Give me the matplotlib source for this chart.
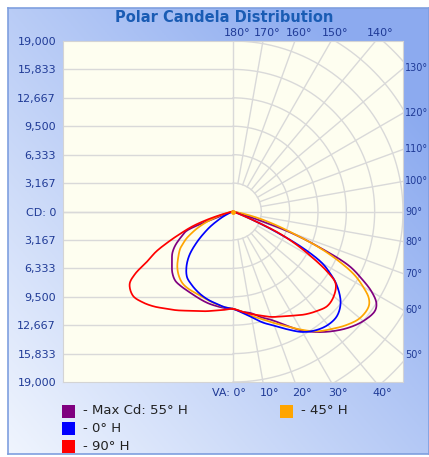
import numpy as np
import matplotlib
matplotlib.use('Agg')
import matplotlib.pyplot as plt
from matplotlib.transforms import offset_copy
from matplotlib.patches import Rectangle

# vertical angles (deg from nadir) and candela values per plane
angles = [0, 5, 10, 15, 20, 25, 30, 35, 40, 45, 50, 55, 57.5, 60, 62.5, 65,
          67.5, 70, 72.5, 75, 77.5, 80, 85, 90, 180]

# right half of plot = plane itself, left half = opposite plane
maxcd_right = [10850, 11200, 11500, 12200, 12900, 14000, 15300, 16400, 17400, 18300,
               19000, 19350, 19000, 17900, 16200, 14300, 10500, 6800, 2000, 700, 100, 0, 0, 0, 0]
maxcd_left = [10850, 10800, 10700, 10600, 10450, 10300, 10200, 10150, 10050, 9600,
              8900, 8300, 7900, 7400, 6800, 6200, 5600, 1000, 0, 0, 0, 0, 0, 0, 0]
h45_right = [10850, 11200, 11800, 12400, 13200, 14100, 15200, 16300, 17100, 17900,
             18500, 18500, 18000, 16800, 15300, 13000, 10300, 7200, 5000, 3200, 1500, 300, 0, 0, 0]
h45_left = [10850, 10700, 10500, 10300, 10100, 10000, 9950, 9800, 9400, 8800,
            8000, 7200, 6600, 6000, 5200, 4400, 3500, 2600, 1700, 900, 400, 100, 0, 0, 0]
h0_right = [10850, 11300, 11950, 12800, 13550, 14500, 15500, 16150, 16500, 16450,
            15700, 14100, 12900, 11500, 8800, 5000, 1800, 300, 0, 0, 0, 0, 0, 0, 0]
h0_left = [10850, 10700, 10450, 10250, 10000, 9700, 9350, 8950, 8100, 6900,
           5200, 3500, 2700, 1900, 1300, 700, 350, 100, 0, 0, 0, 0, 0, 0, 0]
h90_right = [10850, 11200, 11600, 12000, 12500, 12900, 13400, 14000, 14500, 14900,
             14700, 14000, 12500, 10200, 8000, 5500, 1800, 300, 0, 0, 0, 0, 0, 0, 0]
h90_left = [10850, 11000, 11200, 11500, 11800, 12200, 12700, 13200, 13800, 14300,
            14600, 14100, 13000, 11000, 9700, 7900, 6200, 4800, 3000, 1300, 300, 0, 0, 0, 0]

series = [
    ('- Max Cd: 55° H', '#800080', maxcd_right, maxcd_left),
    ('- 45° H', '#ffa500', h45_right, h45_left),
    ('- 0° H', '#0000ff', h0_right, h0_left),
    ('- 90° H', '#ff0000', h90_right, h90_left),
]

rmax = 19000
ytick_labels = ['19,000', '15,833', '12,667', '9,500', '6,333', '3,167', 'CD: 0',
                '3,167', '6,333', '9,500', '12,667', '15,833', '19,000']
label_blue = '#1f3a96'


def closed_spline(pts, n=16):
    # centripetal catmull-rom through the points of a closed loop
    P = np.asarray(pts, float)
    N = len(P)
    out = []
    for i in range(N):
        p0, p1, p2, p3 = P[i - 1], P[i], P[(i + 1) % N], P[(i + 2) % N]
        t0 = 0.0
        t1 = t0 + np.linalg.norm(p1 - p0) ** 0.5 + 1e-9
        t2 = t1 + np.linalg.norm(p2 - p1) ** 0.5 + 1e-9
        t3 = t2 + np.linalg.norm(p3 - p2) ** 0.5 + 1e-9
        t = np.linspace(t1, t2, n, endpoint=False)[:, None]
        a1 = (t1 - t) / (t1 - t0) * p0 + (t - t0) / (t1 - t0) * p1
        a2 = (t2 - t) / (t2 - t1) * p1 + (t - t1) / (t2 - t1) * p2
        a3 = (t3 - t) / (t3 - t2) * p2 + (t - t2) / (t3 - t2) * p3
        b1 = (t2 - t) / (t2 - t0) * a1 + (t - t0) / (t2 - t0) * a2
        b2 = (t3 - t) / (t3 - t1) * a2 + (t - t1) / (t3 - t1) * a3
        out.append((t2 - t) / (t2 - t1) * b1 + (t - t1) / (t2 - t1) * b2)
    out = np.vstack(out + [out[0][:1]])
    return out[:, 0], out[:, 1]


def loop_points(right, left):
    a = np.radians(angles)
    r = np.asarray(right, float)
    l = np.asarray(left, float)
    pts = [(ri * np.sin(ai), -ri * np.cos(ai)) for ai, ri in zip(a, r)]
    pts += [(-li * np.sin(ai), -li * np.cos(ai)) for ai, li in zip(a[::-1], l[::-1])]
    clean = []
    for p in pts:
        if not clean or np.hypot(p[0] - clean[-1][0], p[1] - clean[-1][1]) > 1:
            clean.append(p)
    if np.hypot(clean[0][0] - clean[-1][0], clean[0][1] - clean[-1][1]) <= 1:
        clean.pop()
    return clean


fig = plt.figure(figsize=(4.29, 4.57), dpi=100)
W, H = 429, 457

# gradient background panel
bg = fig.add_axes([8 / W, 3 / H, (W - 8) / W, (H - 11) / H])
gx, gy = np.meshgrid(np.linspace(0, 1, 200), np.linspace(0, 1, 200))
g = np.clip(gx * 0.6 + gy * 0.55, 0, 1)
c0 = np.array([0.94, 0.96, 0.995])
c1 = np.array([0.55, 0.67, 0.94])
img = c0 + (c1 - c0) * g[..., None]
bg.imshow(img, origin='lower', aspect='auto', extent=[0, 1, 0, 1])
bg.set_xticks([])
bg.set_yticks([])
for sp in bg.spines.values():
    sp.set_color('#7f9fdf')
    sp.set_linewidth(1.2)

ax = fig.add_axes([63 / W, (H - 382) / H, 340 / W, 341 / H])
ax.set_facecolor('#fefef0')
ax.set_xlim(-rmax, rmax)
ax.set_ylim(-rmax, rmax)
for sp in ax.spines.values():
    sp.set_color('#d4d4d4')

grid_kw = dict(color='#d9d9d9', lw=1.0, zorder=1)
step = rmax / 6
for k in range(-5, 6):
    ax.plot([-rmax, 0], [k * step, k * step], **grid_kw)
ax.plot([-rmax, rmax], [0, 0], **grid_kw)
ax.plot([0, 0], [-rmax, rmax], **grid_kw)
t = np.radians(np.linspace(0, 180, 400))
for k in range(1, 9):
    ax.plot(k * step * np.sin(t), -k * step * np.cos(t), **grid_kw)
for va in range(10, 180, 10):
    if va == 90:
        continue
    a = np.radians(va)
    ax.plot([step * np.sin(a), 2 * rmax * np.sin(a)],
            [-step * np.cos(a), -2 * rmax * np.cos(a)], **grid_kw)

# curves
for name, col, right, left in series:
    xs, ys = closed_spline(loop_points(right, left))
    ax.plot(xs, ys, color=col, lw=1.25, zorder=3, solid_joinstyle='round')
ax.plot([0], [0], 'o', color='#ffa500', ms=2.5, zorder=4)

ax.set_xticks([])
ax.set_yticks(np.linspace(rmax, -rmax, 13))
ax.set_yticklabels(ytick_labels)
ax.tick_params(axis='y', length=0, pad=5, labelsize=8, labelcolor=label_blue)

# angle labels where the spokes meet the frame
for va in range(0, 50, 10):
    x = rmax * np.tan(np.radians(va))
    if va == 0:
        tr_ = offset_copy(ax.transData, fig=fig, x=13, y=-11, units='dots')
        ax.text(x, -rmax, 'VA: 0°', transform=tr_, ha='right', va='center',
                fontsize=8, color=label_blue, clip_on=False)
    else:
        tr_ = offset_copy(ax.transData, fig=fig, x=-3, y=-11, units='dots')
        ax.text(x, -rmax, f'{va}°', transform=tr_, ha='left', va='center',
                fontsize=8, color=label_blue, clip_on=False)
for va in range(50, 140, 10):
    a = np.radians(va)
    y = -rmax * np.cos(a) / np.sin(a)
    tr_ = offset_copy(ax.transData, fig=fig, x=2, y=0, units='dots')
    ax.text(rmax, y, f'{va}°', transform=tr_, ha='left', va='center',
            fontsize=7, color=label_blue, clip_on=False)
for va in range(140, 190, 10):
    x = rmax * np.tan(np.radians(180 - va))
    tr_ = offset_copy(ax.transData, fig=fig, x=4, y=8, units='dots')
    ax.text(x, rmax, f'{va}°', transform=tr_, ha='center', va='center',
            fontsize=8, color=label_blue, clip_on=False)

fig.text(224 / W, 1 - 17 / H, 'Polar Candela Distribution', ha='center', va='center',
         fontsize=10.5, fontweight='bold', color='#1a5cb4')

# legend
leg_pos = [(62, 411), (280, 411), (62, 428), (62, 446)]
for (px, py), (name, col, _, _) in zip(leg_pos, series):
    fig.patches.append(Rectangle((px / W, 1 - (py + 6.5) / H), 13 / W, 13 / H,
                                 transform=fig.transFigure, facecolor=col,
                                 edgecolor='none'))
    fig.text((px + 21) / W, 1 - py / H, name, ha='left', va='center',
             fontsize=9.5, color='#222222')

fig.savefig('out.png', dpi=100)
